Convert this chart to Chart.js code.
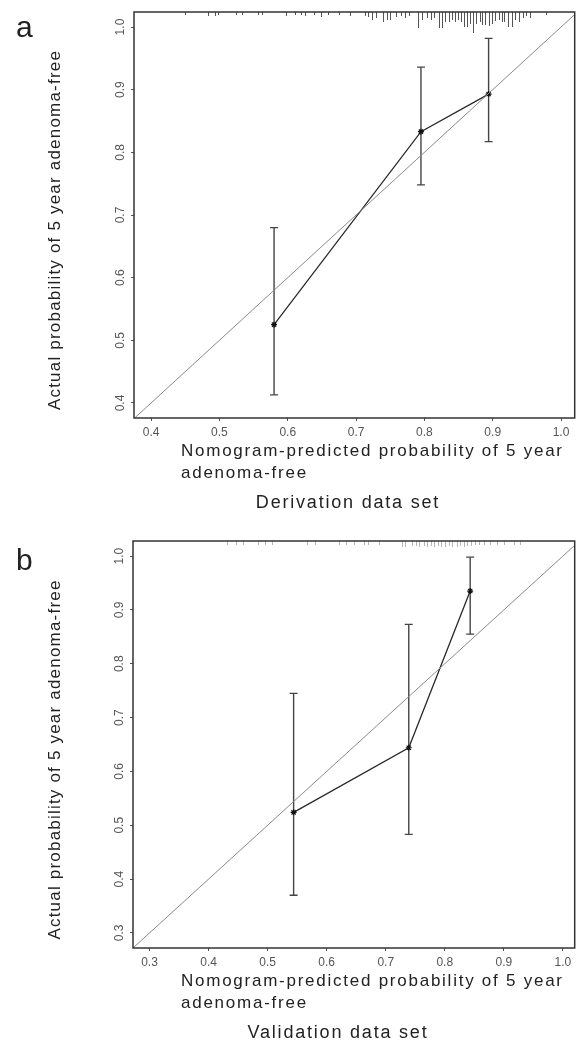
<!DOCTYPE html>
<html>
<head>
<meta charset="utf-8">
<script src="https://cdn.jsdelivr.net/npm/chart.js@4.4.1/dist/chart.umd.min.js"></script>
<style>
  html, body { margin: 0; padding: 0; background: #fff; }
  .panel { position: relative; width: 580px; }
  #wrapA { height: 525px; }
  #wrapB { height: 524px; }
</style>
</head>
<body>
<div class="panel" id="wrapA"><canvas id="chartA"></canvas></div>
<div class="panel" id="wrapB"><canvas id="chartB"></canvas></div>
<script>
// panel a: derivation data set
const predA = [0.58, 0.795, 0.894];
const actualA = [0.525, 0.833, 0.893];
const lowerA = [0.413, 0.748, 0.817];
const upperA = [0.68, 0.936, 0.982];
const ticksA = [0.4, 0.5, 0.6, 0.7, 0.8, 0.9, 1.0];
const xRangeA = [0.375, 1.02];
const yRangeA = [0.376, 1.024];
// distribution of predicted values (rug at the top)
const rugXA = [0.449, 0.484, 0.493, 0.498, 0.525, 0.533, 0.557, 0.563, 0.597, 0.61,
  0.62, 0.626, 0.638, 0.648, 0.659, 0.675, 0.691, 0.713, 0.718, 0.723, 0.729, 0.739,
  0.745, 0.75, 0.758, 0.766, 0.771, 0.777, 0.79, 0.796, 0.804, 0.809, 0.814, 0.821,
  0.826, 0.83, 0.836, 0.84, 0.845, 0.849, 0.854, 0.858, 0.862, 0.867, 0.871, 0.876,
  0.881, 0.884, 0.888, 0.894, 0.899, 0.903, 0.909, 0.913, 0.917, 0.923, 0.928, 0.932,
  0.938, 0.945, 0.949, 0.954, 0.978];
const rugNA = [1.5, 2, 2, 1.5, 1.5, 1.5, 1.5, 1.5, 2, 1.5,
  1.5, 2, 1.5, 2.5, 1.5, 1.5, 2, 2, 2.5, 4, 3, 5,
  4, 4, 2.5, 2, 3, 2, 8, 4, 3, 4, 3, 8,
  8, 5, 5, 4, 5, 4, 5, 7.5, 7.5, 6, 10.5, 6,
  5, 6.5, 6.5, 7, 6, 4.5, 4, 5, 5, 7.5, 7.5, 4,
  5, 3, 2, 3, 1.5];

// panel b: validation data set
const predB = [0.544, 0.739, 0.843];
const actualB = [0.524, 0.644, 0.935];
const lowerB = [0.37, 0.483, 0.855];
const upperB = [0.745, 0.873, 0.998];
const ticksB = [0.3, 0.4, 0.5, 0.6, 0.7, 0.8, 0.9, 1.0];
const xRangeB = [0.272, 1.02];
const yRangeB = [0.272, 1.028];
const rugXB = [0.431, 0.446, 0.458, 0.483, 0.496, 0.508, 0.567, 0.58, 0.621, 0.633,
  0.646, 0.664, 0.67, 0.689, 0.727, 0.732, 0.745, 0.752, 0.757, 0.764, 0.77, 0.776,
  0.782, 0.788, 0.794, 0.8, 0.807, 0.813, 0.82, 0.826, 0.832, 0.838, 0.845, 0.851,
  0.858, 0.866, 0.876, 0.888, 0.9, 0.917, 0.927];
const rugNB = [2, 2, 2, 2, 2, 2, 2, 2, 2, 2,
  2, 2, 2, 2, 3, 3, 2.5, 2.5, 3, 2.5, 3, 2.5,
  3, 2.5, 3, 3, 2.5, 3, 3, 2.5, 3, 2.5, 2.5, 2,
  2, 2, 2, 2, 2, 2, 2];

const FONT = "'Liberation Sans', Arial, sans-serif";

const panelDecor = {
  id: "panelDecor",
  afterDatasetsDraw(chart, args, opts) {
    const ctx = chart.ctx;
    const area = chart.chartArea;
    const xs = chart.scales.x;
    ctx.save();
    ctx.strokeStyle = opts.rugColor;
    ctx.lineWidth = 1;
    opts.rugX.forEach((v, i) => {
      const px = Math.round(xs.getPixelForValue(v)) + 0.5;
      ctx.beginPath();
      ctx.moveTo(px, area.top);
      ctx.lineTo(px, area.top + opts.rugN[i] * 2);
      ctx.stroke();
    });
    ctx.strokeStyle = "#333";
    ctx.lineWidth = 1.5;
    ctx.strokeRect(area.left, area.top, area.right - area.left, area.bottom - area.top);
    ctx.restore();
  },
  afterDraw(chart, args, opts) {
    const ctx = chart.ctx;
    const area = chart.chartArea;
    ctx.save();
    ctx.fillStyle = "#222";

    ctx.font = "30px " + FONT;
    ctx.textAlign = "left";
    ctx.textBaseline = "alphabetic";
    ctx.fillText(opts.letter, 16, opts.letterY);

    ctx.font = "17px " + FONT;
    ctx.textBaseline = "middle";
    ctx.letterSpacing = "1.2px";
    ctx.save();
    ctx.translate(55, (area.top + area.bottom) / 2 + 15);
    ctx.rotate(-Math.PI / 2);
    ctx.textAlign = "center";
    ctx.fillText("Actual probability of 5 year adenoma-free", 0, 0);
    ctx.restore();

    ctx.letterSpacing = "1.75px";
    ctx.textAlign = "left";
    ctx.fillText("Nomogram-predicted probability of 5 year", 181, area.bottom + 33);
    ctx.fillText("adenoma-free", 181, area.bottom + 55);

    ctx.font = "18px " + FONT;
    ctx.letterSpacing = "1.8px";
    ctx.textAlign = "center";
    ctx.fillText(opts.caption, opts.captionX, area.bottom + 85);
    ctx.restore();
  }
};

function makePanel(id, d) {
  const diag = [Math.min(d.xRange[0], d.yRange[0]), Math.max(d.xRange[1], d.yRange[1])];
  const datasets = [
    {
      data: diag.map(v => ({ x: v, y: v })),
      borderColor: "#8a8a8a",
      borderWidth: 1,
      pointRadius: 0
    },
    {
      data: d.pred.map((v, i) => ({ x: v, y: d.actual[i] })),
      borderColor: "#2a2a2a",
      borderWidth: 1.3,
      pointStyle: "star",
      pointRadius: 3,
      pointBorderWidth: 1.2,
      pointBorderColor: "#111"
    }
  ];
  d.pred.forEach((v, i) => {
    datasets.push({
      data: [{ x: v, y: d.lower[i] }, { x: v, y: d.upper[i] }],
      borderColor: "#444",
      borderWidth: 1.4,
      pointStyle: "line",
      pointRadius: 4,
      pointBorderWidth: 1.3,
      pointBorderColor: "#444"
    });
  });

  const tickOpts = {
    color: "#555",
    font: { family: FONT, size: 12 },
    callback: v => v.toFixed(1)
  };
  const gridOpts = { drawOnChartArea: false, drawTicks: true, tickLength: 3, color: "#555" };

  new Chart(document.getElementById(id), {
    type: "scatter",
    data: { datasets },
    options: {
      responsive: true,
      maintainAspectRatio: false,
      animation: false,
      showLine: true,
      layout: { padding: { top: d.top, right: 1, left: 0, bottom: 0 } },
      plugins: {
        legend: { display: false },
        tooltip: { enabled: false },
        panelDecor: {
          rugX: d.rugX, rugN: d.rugN, rugColor: d.rugColor,
          letter: d.letter, letterY: d.letterY,
          caption: d.caption, captionX: d.captionX
        }
      },
      scales: {
        x: {
          type: "linear",
          min: d.xRange[0],
          max: d.xRange[1],
          afterBuildTicks: s => { s.ticks = d.ticks.map(v => ({ value: v })); },
          afterFit: s => { s.height = d.bottomSpace; },
          ticks: Object.assign({ padding: 4 }, tickOpts),
          grid: gridOpts,
          border: { display: false }
        },
        y: {
          type: "linear",
          min: d.yRange[0],
          max: d.yRange[1],
          afterBuildTicks: s => { s.ticks = d.ticks.map(v => ({ value: v })); },
          afterFit: s => { s.width = d.left; },
          ticks: Object.assign({ padding: 2, minRotation: 90, maxRotation: 90, crossAlign: "center" }, tickOpts),
          grid: gridOpts,
          border: { display: false }
        }
      }
    },
    plugins: [panelDecor]
  });
}

makePanel("chartA", {
  pred: predA, actual: actualA, lower: lowerA, upper: upperA,
  ticks: ticksA.slice(), xRange: xRangeA, yRange: yRangeA,
  rugX: rugXA, rugN: rugNA, rugColor: "#555",
  letter: "a", letterY: 37, caption: "Derivation data set", captionX: 348,
  top: 12, left: 134, bottomSpace: 107
});

makePanel("chartB", {
  pred: predB, actual: actualB, lower: lowerB, upper: upperB,
  ticks: ticksB.slice(), xRange: xRangeB, yRange: yRangeB,
  rugX: rugXB, rugN: rugNB, rugColor: "#b5b5b5",
  letter: "b", letterY: 45, caption: "Validation data set", captionX: 338,
  top: 16, left: 133, bottomSpace: 101
});
</script>
</body>
</html>
